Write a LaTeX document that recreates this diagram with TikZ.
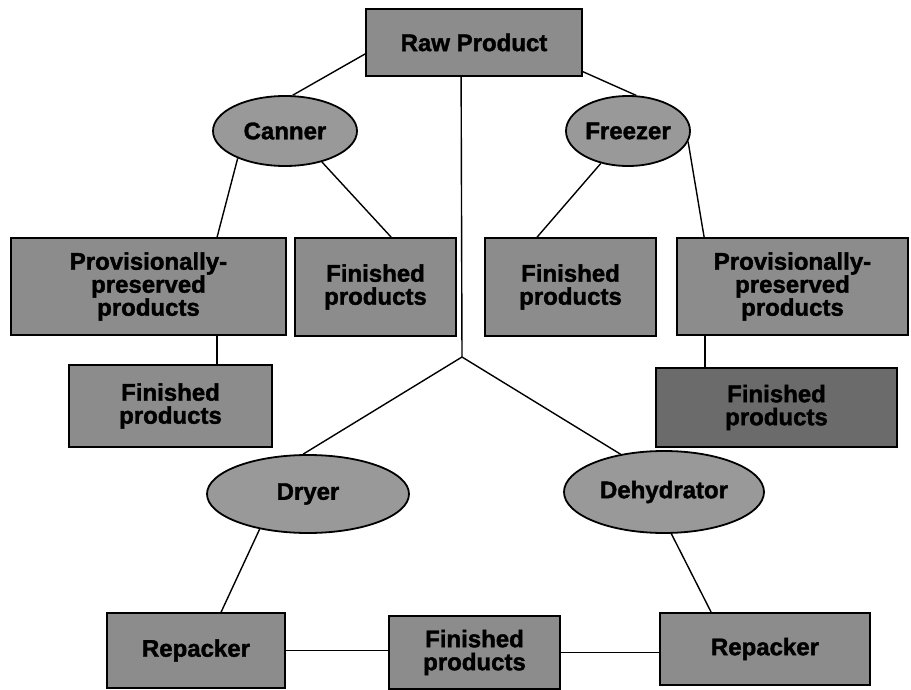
\documentclass[tikz,border=0pt]{standalone}
\usepackage{fontspec}
\setmainfont{Liberation Sans}[BoldFeatures={FakeBold=1.6}]
\usetikzlibrary{shapes.geometric,calc}
\begin{document}
\begin{tikzpicture}[x=1pt,y=-1pt,
  every node/.style={font=\fontsize{24}{23}\selectfont\bfseries, align=center, inner sep=0pt},
  boxnode/.style={draw=black, line width=1.8pt, fill=black!45, rectangle},
  darkbox/.style={boxnode, fill=black!58},
  ovalnode/.style={draw=black, line width=1.8pt, fill=black!40, ellipse},
  conn/.style={draw=black, line width=1.4pt}]
\useasboundingbox (0,0) rectangle (911,690);
\fill[white] (0,0) rectangle (911,690);

% boxes
\node[boxnode, minimum width=216pt, minimum height=67pt] (raw) at (474,42.5) {Raw Product};
\node[boxnode, minimum width=275pt, minimum height=97pt] (prov1) at (148.5,286.5) {Provisionally-\\preserved\\products};
\node[boxnode, minimum width=161pt, minimum height=98pt] (fin1) at (375.5,287) {Finished\\products};
\node[boxnode, minimum width=171pt, minimum height=98pt] (fin2) at (570.5,287) {Finished\\products};
\node[boxnode, minimum width=231pt, minimum height=97pt] (prov2) at (792.5,286.5) {Provisionally-\\preserved\\products};
\node[boxnode, minimum width=203pt, minimum height=82pt] (fin3) at (170.5,406) {Finished\\products};
\node[darkbox, minimum width=241pt, minimum height=79pt] (fin4) at (776.5,407.5) {Finished\\products};
\node[boxnode, minimum width=178pt, minimum height=75pt] (rep1) at (196,650.5) {Repacker};
\node[boxnode, minimum width=171pt, minimum height=73pt] (fin5) at (474.5,652.5) {Finished\\products};
\node[boxnode, minimum width=210pt, minimum height=72pt] (rep2) at (765,649) {Repacker};

% ellipses
\node[ovalnode, minimum width=144pt, minimum height=70pt] (canner) at (285,131) {Canner};
\node[ovalnode, minimum width=124pt, minimum height=70pt] (freezer) at (628,131) {Freezer};
\node[ovalnode, minimum width=202pt, minimum height=78pt] (dryer) at (308,494) {Dryer};
\node[ovalnode, minimum width=200pt, minimum height=82pt] (dehyd) at (664,492) {Dehydrator};

% helper coordinates on box edges
\coordinate (br) at (462,357);
\coordinate (rawb) at ($(raw.south west)+(96,0)$);
\coordinate (p1t) at ($(prov1.north west)+(207,0)$);
\coordinate (p1b) at ($(prov1.south west)+(207,0)$);
\coordinate (f1t) at ($(fin1.north west)+(97,0)$);
\coordinate (f2t) at ($(fin2.north west)+(53,0)$);
\coordinate (p2t) at ($(prov2.north west)+(28,0)$);
\coordinate (p2b) at ($(prov2.south west)+(29,0)$);
\coordinate (r1t) at ($(rep1.north west)+(115,0)$);
\coordinate (r2t) at ($(rep2.north west)+(52,0)$);

% connectors
\draw[conn] (raw.186.6) -- (canner.78);
\draw[conn] (raw.345.7) -- (freezer.77);
\draw[conn] (canner.210) -- (p1t);
\draw[conn] (canner.320) -- (f1t);
\draw[conn] (freezer.230) -- (f2t);
\draw[conn] (freezer.350.4) -- (p2t);
\draw[conn] (p1b) -- (p1b |- fin3.north);
\draw[conn] (p2b) -- (p2b |- fin4.north);
\draw[conn] (rawb) -- (br);
\draw[conn] (br) -- (dryer.97.5);
\draw[conn] (br) -- (dehyd.139);
\draw[conn] (dryer.216) -- (r1t);
\draw[conn] (dehyd.280.4) -- (r2t);
\draw[conn] (rep1.east) -- (rep1.east -| fin5.west);
\draw[conn] (fin5.east) -- (fin5.east -| rep2.west);
\end{tikzpicture}
\end{document}
